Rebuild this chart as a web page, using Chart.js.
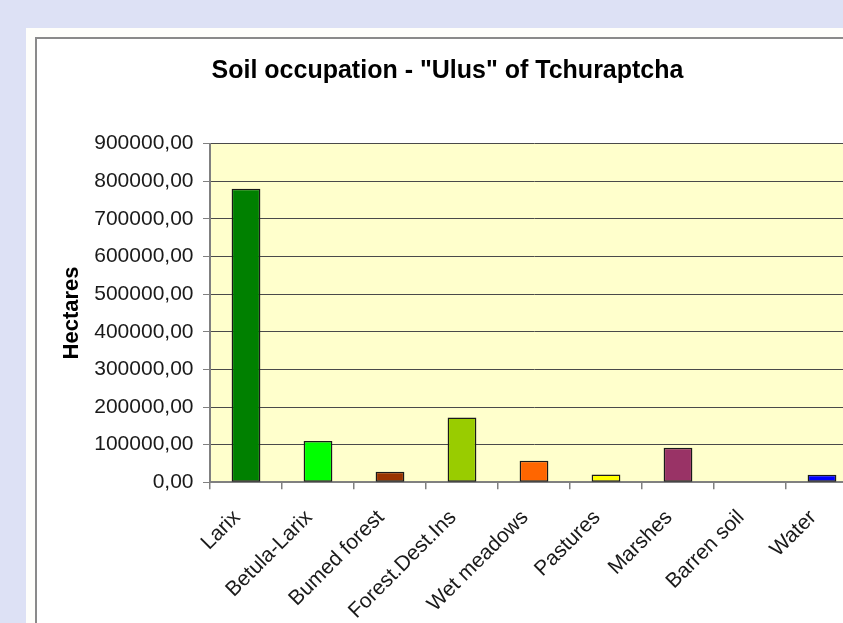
<!DOCTYPE html>
<html>
<head>
<meta charset="utf-8">
<script src="https://cdn.jsdelivr.net/npm/chart.js@4/dist/chart.umd.min.js"></script>
<style>
  html, body { margin:0; padding:0; width:843px; height:623px; overflow:hidden; background:#dde1f5; }
  #panel { position:absolute; left:26px; top:28px; width:900px; height:700px; background:#fefefb; }
  #frame { position:absolute; left:35px; top:37px; width:830px; height:600px; border:2px solid #8a8a8a; background:#ffffff; }
  #frame canvas { display:block; }
</style>
</head>
<body>
<div id="panel"></div>
<div id="frame"><canvas id="c" width="830" height="600"></canvas></div>
<script>
const categories = ["Larix", "Betula-Larix", "Bumed forest", "Forest.Dest.Ins", "Wet meadows", "Pastures", "Marshes", "Barren soil", "Water"];
const hectares = [780000, 110000, 28000, 172000, 57000, 21000, 92000, 0, 20000];
const barColors = ["#008000", "#00ff00", "#993300", "#99cc00", "#ff6600", "#ffff00", "#993366", "#c0c0c0", "#0000ff"];
const chartTitle = 'Soil occupation - "Ulus" of Tchuraptcha';
const yAxisTitle = "Hectares";
const yMin = 0, yMax = 900000, yStep = 100000;

const FONT = "'Liberation Sans', Arial, sans-serif";

const plotBg = {
  id: 'plotBg',
  beforeDraw(chart) {
    const a = chart.chartArea, ctx = chart.ctx;
    ctx.save();
    ctx.fillStyle = '#ffffcc';
    ctx.fillRect(a.left, a.top, a.right - a.left, a.bottom - a.top);
    ctx.restore();
  }
};

new Chart(document.getElementById('c'), {
  type: 'bar',
  data: {
    labels: categories,
    datasets: [{
      data: hectares,
      backgroundColor: barColors,
      borderColor: '#1a1a1a',
      borderWidth: 1.5,
      borderSkipped: false,
      barPercentage: 0.4,
      categoryPercentage: 1.0
    }]
  },
  plugins: [plotBg],
  options: {
    responsive: false,
    animation: false,
    layout: { padding: { left: 0, right: 9, top: 0, bottom: 0 } },
    plugins: {
      legend: { display: false },
      tooltip: { enabled: false },
      title: {
        display: true,
        text: chartTitle,
        color: '#000',
        font: { family: FONT, size: 25, weight: 'bold', lineHeight: 1.2 },
        padding: { top: 17.5, bottom: 57 }
      }
    },
    scales: {
      x: {
        offset: true,
        grid: { display: true, offset: true, drawOnChartArea: false, drawTicks: true, tickLength: 7, color: '#808080', lineWidth: 1.5 },
        border: { display: true, color: '#808080', width: 2 },
        ticks: {
          autoSkip: false, minRotation: 45, maxRotation: 45,
          color: '#1a1a1a', padding: 16, labelOffset: -9,
          font: { family: FONT, size: 21 }
        },
        afterFit(scale) { scale.height = 600 - 443.3; }
      },
      y: {
        min: yMin, max: yMax,
        grid: { color: '#4a4a4a', lineWidth: 1, drawTicks: true, tickLength: 7, tickColor: '#808080' },
        border: { display: true, color: '#808080', width: 2 },
        ticks: {
          stepSize: yStep, color: '#1a1a1a', padding: 9.5,
          font: { family: FONT, size: 21 },
          callback: v => v.toFixed(2).replace('.', ',')
        },
        title: {
          display: true, text: yAxisTitle, color: '#000',
          font: { family: FONT, size: 22, weight: 'bold', lineHeight: 1.2 },
          padding: { top: 21.5, bottom: 0 }
        },
        afterFit(scale) { scale.width = 173; }
      }
    }
  }
});
</script>
</body>
</html>
